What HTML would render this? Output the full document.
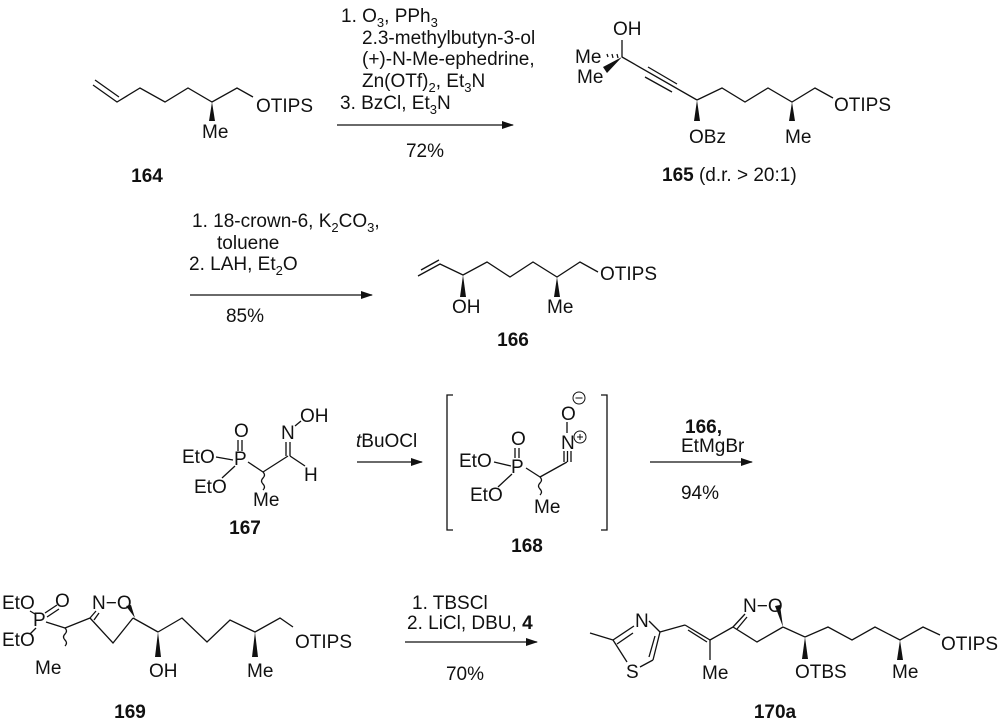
<!DOCTYPE html>
<html><head><meta charset="utf-8"><style>
html,body{margin:0;padding:0;background:#fff}
svg{display:block}
text{font-family:"Liberation Sans",Arial,sans-serif;font-size:19px;fill:#111}
.b{font-weight:bold}
.s{font-size:13px}
.m{text-anchor:middle}
line,polyline,path{stroke:#111;stroke-width:1.3;fill:none}
.w{fill:#111;stroke:none}
</style></head><body>
<svg width="1000" height="725" viewBox="0 0 1000 725" xmlns="http://www.w3.org/2000/svg">
<defs><marker id="ah" markerWidth="12" markerHeight="8" refX="11" refY="4" orient="auto" markerUnits="userSpaceOnUse"><path d="M0,0 L12,4 L0,8 Z" class="w"/></marker></defs>

<!-- 164 -->
<polyline points="93,85 117,102 140,88 165,102 188,88 212,102 237,88 253,97"/>
<line x1="95" y1="80" x2="119" y2="97"/>
<polygon class="w" points="212,102 209,121 215,121"/>
<text x="256" y="112">OTIPS</text>
<text x="202" y="138">Me</text>
<text x="147" y="182" class="b m">164</text>

<!-- arrow 1 -->
<line x1="337" y1="125" x2="513" y2="125" marker-end="url(#ah)"/>
<text x="341" y="22">1. O<tspan class="s" dy="5">3</tspan><tspan dy="-5">, PPh</tspan><tspan class="s" dy="5">3</tspan></text>
<text x="362" y="44">2.3-methylbutyn-3-ol</text>
<text x="362" y="65">(+)-N-Me-ephedrine,</text>
<text x="362" y="87">Zn(OTf)<tspan class="s" dy="5">2</tspan><tspan dy="-5">, Et</tspan><tspan class="s" dy="5">3</tspan><tspan dy="-5">N</tspan></text>
<text x="340" y="109">3. BzCl, Et<tspan class="s" dy="5">3</tspan><tspan dy="-5">N</tspan></text>
<text x="425" y="157" class="m">72%</text>

<!-- 165 -->
<text x="613" y="35">OH</text>
<line x1="622" y1="40" x2="622" y2="57"/>
<text x="575" y="63">Me</text>
<line x1="607" y1="54" x2="608" y2="57"/><line x1="612" y1="54" x2="613" y2="58"/><line x1="617" y1="54" x2="618" y2="58"/>
<polygon class="w" points="622,57 603,67 607,73"/>
<text x="577" y="83">Me</text>
<line x1="622" y1="57" x2="697" y2="100"/>
<line x1="648" y1="67" x2="677" y2="84"/>
<line x1="645" y1="77" x2="672" y2="92"/>
<polygon class="w" points="697,100 694,121 700,121"/>
<text x="689" y="143">OBz</text>
<polyline points="697,100 722,88 745,102 768,88 792,102 815,88 833,98"/>
<polygon class="w" points="792,102 789,121 795,121"/>
<text x="785" y="143">Me</text>
<text x="834" y="111">OTIPS</text>
<text x="662" y="181"><tspan class="b">165</tspan> (d.r. &gt; 20:1)</text>

<!-- arrow 2 -->
<line x1="190" y1="295" x2="372" y2="295" marker-end="url(#ah)"/>
<text x="192" y="227">1. 18-crown-6, K<tspan class="s" dy="5">2</tspan><tspan dy="-5">CO</tspan><tspan class="s" dy="5">3</tspan><tspan dy="-5">,</tspan></text>
<text x="217" y="249">toluene</text>
<text x="189" y="270">2. LAH, Et<tspan class="s" dy="5">2</tspan><tspan dy="-5">O</tspan></text>
<text x="245" y="322" class="m">85%</text>

<!-- 166 -->
<polyline points="418,276 440,264 463,275 487,262 510,277 533,262 557,277 580,262 598,272"/>
<line x1="421" y1="270" x2="439" y2="260"/>
<polygon class="w" points="463,275 460,297 466,297"/>
<text x="452" y="313">OH</text>
<polygon class="w" points="557,277 554,297 560,297"/>
<text x="547" y="313">Me</text>
<text x="600" y="280">OTIPS</text>
<text x="513" y="346" class="b m">166</text>

<!-- 167 -->
<text x="234" y="437">O</text>
<line x1="238" y1="440" x2="238" y2="451"/><line x1="242" y1="440" x2="242" y2="451"/>
<text x="234" y="465">P</text>
<text x="182" y="463">EtO</text>
<line x1="216" y1="457" x2="233" y2="460"/>
<text x="194" y="493">EtO</text>
<line x1="222" y1="478" x2="235" y2="466"/>
<line x1="248" y1="462" x2="263" y2="472"/>
<path d="M263,472 q3,3 0,6 q-3,3 0,6 q3,3 0,6"/>
<text x="253" y="506">Me</text>
<line x1="263" y1="472" x2="288" y2="456"/>
<line x1="286" y1="456" x2="286" y2="442"/><line x1="290" y1="456" x2="290" y2="442"/>
<text x="281" y="439">N</text>
<line x1="295" y1="426" x2="301" y2="421"/>
<text x="300" y="422">OH</text>
<line x1="290" y1="456" x2="305" y2="466"/>
<text x="304" y="481">H</text>
<text x="245" y="534" class="b m">167</text>

<!-- arrow 3a -->
<line x1="357" y1="462" x2="422" y2="462" marker-end="url(#ah)"/>
<text x="356" y="447"><tspan font-style="italic">t</tspan>BuOCl</text>

<!-- 168 -->
<polyline points="453,395 447,395 447,530 453,530"/>
<polyline points="601,395 607,395 607,530 601,530"/>
<text x="511" y="445">O</text>
<line x1="515" y1="448" x2="515" y2="458"/><line x1="519" y1="448" x2="519" y2="458"/>
<text x="511" y="473">P</text>
<text x="459" y="467">EtO</text>
<line x1="494" y1="462" x2="511" y2="466"/>
<text x="470" y="501">EtO</text>
<line x1="498" y1="487" x2="512" y2="474"/>
<line x1="526" y1="468" x2="540" y2="477"/>
<path d="M540,477 q3,3 0,6 q-3,3 0,6 q3,3 0,6"/>
<text x="534" y="513">Me</text>
<line x1="540" y1="477" x2="567" y2="462"/>
<line x1="564" y1="462" x2="564" y2="451"/><line x1="567.5" y1="462" x2="567.5" y2="451"/><line x1="571" y1="462" x2="571" y2="451"/>
<text x="561" y="449">N</text>
<circle cx="580" cy="437" r="6" style="stroke:#111;fill:none;stroke-width:1"/>
<line x1="577" y1="437" x2="583" y2="437" style="stroke-width:1"/><line x1="580" y1="434" x2="580" y2="440" style="stroke-width:1"/>
<line x1="567" y1="422" x2="567" y2="433"/>
<text x="561" y="420">O</text>
<circle cx="579" cy="398" r="6" style="stroke:#111;fill:none;stroke-width:1"/>
<line x1="575.5" y1="398" x2="582.5" y2="398" style="stroke-width:1"/>
<text x="527" y="552" class="b m">168</text>

<!-- arrow 3b -->
<line x1="650" y1="462" x2="752" y2="462" marker-end="url(#ah)"/>
<text x="685" y="433" class="b">166,</text>
<text x="681" y="452">EtMgBr</text>
<text x="700" y="499" class="m">94%</text>

<!-- 169 -->
<text x="2" y="609">EtO</text>
<text x="55" y="607">O</text>
<line x1="45" y1="613" x2="57" y2="605"/><line x1="47" y1="617" x2="59" y2="609"/>
<text x="33" y="626">P</text>
<text x="2" y="646">EtO</text>
<line x1="30" y1="611" x2="35" y2="614"/>
<line x1="30" y1="634" x2="36" y2="628"/>
<line x1="46" y1="622" x2="65" y2="628"/>
<path d="M65,628 q3,3 0,6 q-3,3 0,6 q3,3 0,6"/>
<text x="35" y="674">Me</text>
<line x1="65" y1="628" x2="90" y2="618"/>
<text x="92" y="609">N−O</text>
<line x1="90" y1="618" x2="96" y2="611"/><line x1="94" y1="620" x2="99" y2="613"/>
<polyline points="90,618 113,643 133,618"/>
<polygon class="w" points="126,606 131,605 135,618"/>
<line x1="133" y1="618" x2="158" y2="632"/>
<polygon class="w" points="158,632 155,657 161,657"/>
<text x="149" y="677">OH</text>
<polyline points="158,632 182,618 207,642 230,620 255,632 280,618 293,627"/>
<polygon class="w" points="255,632 252,657 258,657"/>
<text x="247" y="677">Me</text>
<text x="295" y="648">OTIPS</text>
<text x="130" y="718" class="b m">169</text>

<!-- arrow 4 -->
<line x1="405" y1="642" x2="537" y2="642" marker-end="url(#ah)"/>
<text x="412" y="609">1. TBSCl</text>
<text x="407" y="629">2. LiCl, DBU, <tspan class="b">4</tspan></text>
<text x="465" y="680" class="m">70%</text>

<!-- 170a -->
<line x1="590" y1="633" x2="613" y2="640"/>
<line x1="613" y1="640" x2="634" y2="626"/><line x1="617" y1="644" x2="633" y2="633"/>
<text x="635" y="627">N</text>
<line x1="649" y1="621" x2="660" y2="632"/>
<line x1="660" y1="632" x2="653" y2="660"/><line x1="655" y1="636" x2="649" y2="657"/>
<line x1="653" y1="660" x2="640" y2="667"/>
<text x="626" y="678">S</text>
<line x1="613" y1="640" x2="627" y2="662"/>
<line x1="660" y1="632" x2="685" y2="625"/>
<line x1="685" y1="625" x2="710" y2="640"/><line x1="688" y1="630" x2="707" y2="642"/>
<line x1="710" y1="640" x2="710" y2="660"/>
<text x="702" y="679">Me</text>
<line x1="710" y1="640" x2="733" y2="627"/>
<text x="743" y="612">N−O</text>
<line x1="733" y1="627" x2="745" y2="614"/><line x1="737" y1="629" x2="747" y2="617"/>
<polyline points="733,627 757,642 783,627"/>
<polygon class="w" points="775,606 780,605 783,627"/>
<line x1="783" y1="627" x2="805" y2="637"/>
<polygon class="w" points="805,637 802,659 808,659"/>
<text x="795" y="678">OTBS</text>
<polyline points="805,637 828,627 852,640 875,627 900,640 923,627 940,635"/>
<polygon class="w" points="900,640 897,660 903,660"/>
<text x="892" y="678">Me</text>
<text x="941" y="650">OTIPS</text>
<text x="775" y="718" class="b m">170a</text>
</svg>
</body></html>
